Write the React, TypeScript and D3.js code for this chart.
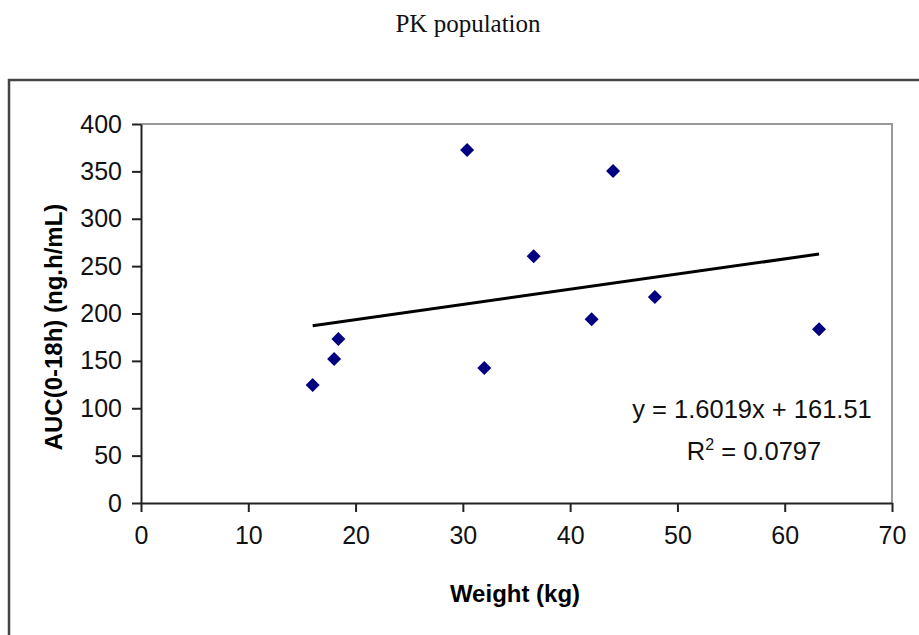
import React, { useEffect, useRef } from "react";
import * as d3 from "d3";

const weights = [16.0, 18.0, 18.4, 30.4, 32.0, 36.6, 42.0, 44.0, 47.9, 63.2];
const aucs = [124.5, 152, 173, 372.5, 142.5, 260.5, 194, 350.5, 217.5, 183.5];
const xTicks = [0, 10, 20, 30, 40, 50, 60, 70];
const yTicks = [0, 50, 100, 150, 200, 250, 300, 350, 400];
const slope = 1.6019;
const intercept = 161.51;
const rSquared = "0.0797";

const W = 919;
const H = 635;
const plot = { left: 141, right: 892, top: 124, bottom: 503 };
const sans = "'Liberation Sans', Arial, sans-serif";

const App = () => {
  const ref = useRef<SVGSVGElement>(null);

  useEffect(() => {
    const svg = d3.select(ref.current);
    svg.selectAll("*").remove();

    const x = d3.scaleLinear().domain([0, 70]).range([plot.left, plot.right]);
    const y = d3.scaleLinear().domain([0, 400]).range([plot.bottom, plot.top]);

    // title
    svg
      .append("text")
      .attr("x", 468)
      .attr("y", 32)
      .attr("text-anchor", "middle")
      .attr("fill", "#111")
      .style("font-family", "'Liberation Serif', 'Times New Roman', serif")
      .style("font-size", "25px")
      .text("PK population");

    // outer chart frame (runs off the page on the right and bottom)
    svg
      .append("rect")
      .attr("x", 9)
      .attr("y", 80)
      .attr("width", 940)
      .attr("height", 600)
      .attr("fill", "none")
      .attr("stroke", "#444")
      .attr("stroke-width", 2.5);

    // plot area border top / right
    svg
      .append("path")
      .attr("d", `M${plot.left},${plot.top}H${plot.right}V${plot.bottom}`)
      .attr("fill", "none")
      .attr("stroke", "#999")
      .attr("stroke-width", 2);

    const xAxis = svg
      .append("g")
      .attr("transform", `translate(0,${plot.bottom})`)
      .call(d3.axisBottom(x).tickValues(xTicks).tickSize(9).tickSizeOuter(0).tickPadding(14));
    const yAxis = svg
      .append("g")
      .attr("transform", `translate(${plot.left},0)`)
      .call(d3.axisLeft(y).tickValues(yTicks).tickSize(9).tickSizeOuter(0).tickPadding(10));

    [xAxis, yAxis].forEach((g) => {
      g.select(".domain").attr("stroke", "#222").attr("stroke-width", 2);
      g.selectAll(".tick line").attr("stroke", "#222").attr("stroke-width", 2);
      g.selectAll(".tick text")
        .attr("fill", "#111")
        .style("font-family", sans)
        .style("font-size", "25px");
    });

    // axis titles
    svg
      .append("text")
      .attr("x", 515)
      .attr("y", 602)
      .attr("text-anchor", "middle")
      .style("font-family", sans)
      .style("font-size", "24px")
      .style("font-weight", "bold")
      .text("Weight (kg)");
    svg
      .append("text")
      .attr("transform", "translate(62,327) rotate(-90)")
      .attr("text-anchor", "middle")
      .style("font-family", sans)
      .style("font-size", "24px")
      .style("font-weight", "bold")
      .text("AUC(0-18h) (ng.h/mL)");

    // trendline
    const xExt = d3.extent(weights) as [number, number];
    svg
      .append("line")
      .attr("x1", x(xExt[0]))
      .attr("y1", y(slope * xExt[0] + intercept))
      .attr("x2", x(xExt[1]))
      .attr("y2", y(slope * xExt[1] + intercept))
      .attr("stroke", "#000")
      .attr("stroke-width", 3);

    // points
    const diamond = d3.symbol().type(d3.symbolSquare).size(98);
    svg
      .selectAll("path.pt")
      .data(weights.map((w, i) => [w, aucs[i]]))
      .enter()
      .append("path")
      .attr("class", "pt")
      .attr("d", diamond)
      .attr("transform", (d) => `translate(${x(d[0])},${y(d[1])}) rotate(45)`)
      .attr("fill", "#000080");

    // equation
    svg
      .append("text")
      .attr("x", 752)
      .attr("y", 418)
      .attr("text-anchor", "middle")
      .style("font-family", sans)
      .style("font-size", "25.5px")
      .attr("fill", "#111")
      .text(`y = ${slope}x + ${intercept}`);
    const r2 = svg
      .append("text")
      .attr("x", 754)
      .attr("y", 460)
      .attr("text-anchor", "middle")
      .style("font-family", sans)
      .style("font-size", "25.5px")
      .attr("fill", "#111");
    r2.append("tspan").text("R");
    r2.append("tspan").attr("dy", -10).style("font-size", "16px").text("2");
    r2.append("tspan").attr("dy", 10).text(` = ${rSquared}`);
  }, []);

  return (
    <svg
      ref={ref}
      width={W}
      height={H}
      style={{ position: "absolute", left: 0, top: 0, background: "#fff" }}
    />
  );
};

export default App;
